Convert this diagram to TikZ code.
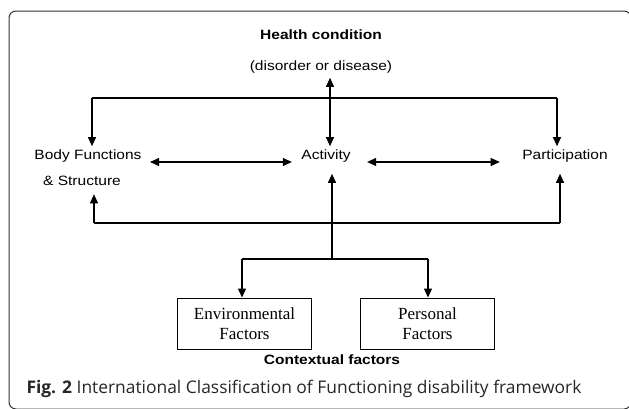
\documentclass[tikz,border=0pt]{standalone}
\usepackage{fontspec}
\newfontfamily\icfsans[FakeStretch=1.15]{Liberation Sans}
\newfontfamily\icfserif{Liberation Serif}
\newfontfamily\icfcap{Open Sans}
\usetikzlibrary{arrows.meta, positioning, calc}

\begin{document}
\begin{tikzpicture}[x=1pt, y=-1pt,
				>={Triangle[length=9pt,width=8pt]},
				line width=1.1pt,
				lbl/.style={font=\icfsans\fontsize{13.5}{15}\selectfont, inner sep=0pt},
				head/.style={font=\icfsans\bfseries\fontsize{13.5}{15}\selectfont, inner sep=0pt},
				factor/.style={draw, line width=1pt, minimum width=134pt, minimum height=51pt,
					align=center, inner sep=0pt,
					font=\icfserif\fontsize{17}{20}\selectfont}
				]
				\useasboundingbox (0,0) rectangle (629,408);
				\begin{scope}
					\clip (0,0) rectangle (629,408);
					\draw[black!80, line width=1pt, rounded corners=7pt] (9,11) rectangle (631,409);
				\end{scope}
				
				% Health condition
				\node[head] (hc) at (321,35) {Health condition};
				\node[lbl]  (dis) at (321,67) {(disorder or disease)};
				
				% Components
				\node[lbl] (bf)  at (88,156) {Body Functions};
				\node[lbl] (bfs) at (82,181) {\& Structure};
				\node[lbl] (act) at (326,156) {Activity};
				\node[lbl] (par) at (565,156) {Participation};
				
				% Contextual factors
				\node[factor] (env)  at (244.5,323.5) {Environmental\\Factors};
				\node[factor] (pers) at (427.5,323.5) {Personal\\Factors};
				\node[head] (ctx) at (332,360) {Contextual factors};
				
				\node[anchor=west, inner sep=0pt, text=black!85,
					font=\icfcap\fontsize{17.4}{20}\selectfont] (cap) at (26,389)
					{\textbf{Fig. 2} International Classification of Functioning disability framework};
				
				% Top line
				\coordinate (tl) at (92,98);
				\coordinate (tc) at (330,98);
				\coordinate (tr) at (557,98);
				\draw (tl) -- (tr);
				\draw[->, shorten >=3pt] (tl) -- (tl |- bf.north);
				\draw[->, shorten >=3pt] (tr) -- (tr |- par.north);
				\draw[<->, shorten <=4pt, shorten >=3pt] (dis.south -| tc) -- (act.north -| tc);
				
				% Middle arrows
				\draw[<->] ([xshift=8pt,yshift=-6pt]bf.east) -- ([xshift=-9pt,yshift=-6pt]act.west);
				\draw[<->] ([xshift=16pt,yshift=-6pt]act.east) -- ([xshift=-22pt,yshift=-6pt]par.west);
				
				% Bottom line
				\coordinate (bl) at (94,223);
				\coordinate (br) at (560,223);
				\coordinate (bc) at (332,259);
				\draw (bl) -- (br);
				\draw[->, shorten >=8pt] (bl) -- (bl |- bfs.south);
				\draw[->, shorten >=11pt] (br) -- (br |- par.south);
				\draw[->, shorten >=11pt] (bc) -- (bc |- act.south);
				
				% Branch to factors
				\coordinate (el) at (242,259);
				\coordinate (pr) at (428,259);
				\draw (el) -- (pr);
				\foreach \a/\b in {el/env, pr/pers}
				\draw[->] (\a) -- (\b.north -| \a);
			\end{tikzpicture}
\end{document}
